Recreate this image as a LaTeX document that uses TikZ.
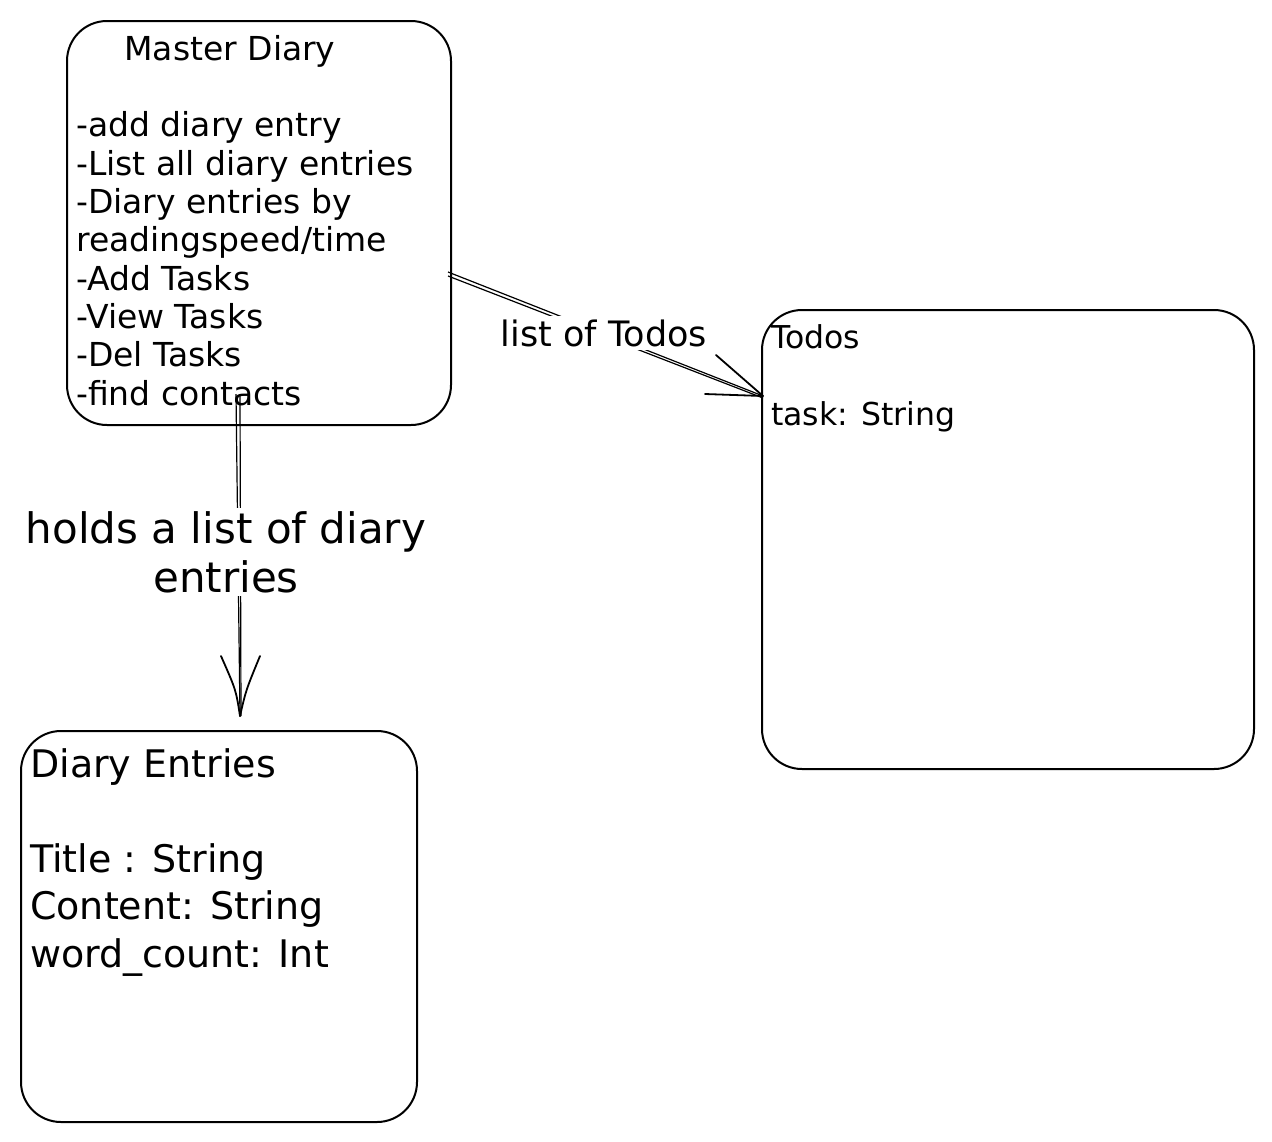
\documentclass[tikz,border=0pt]{standalone}
\usepackage{fontspec}
\setmainfont{DejaVu Sans}
\usetikzlibrary{calc}
\begin{document}
\begin{tikzpicture}[x=1pt,y=-1pt,
  box/.style={draw=black, line width=2pt, rounded corners=40pt, anchor=north west, inner sep=0pt},
  txt/.style={anchor=base west, align=left, inner sep=0pt},
  lbl/.style={fill=white, inner sep=3pt, align=center},
  conn/.style={draw=black, line width=1.2pt},
  barb/.style={draw=black, line width=1.8pt, line cap=round}]
\useasboundingbox[fill=white] (0,0) rectangle (1272,1141);

% boxes
\node[box, minimum width=384pt, minimum height=404pt] (md) at (66,20) {};
\node[box, minimum width=492pt, minimum height=459pt] (td) at (761,309) {};
\node[box, minimum width=396pt, minimum height=391pt] (de) at (20,730) {};

% Master Diary texts
\node[anchor=base, inner sep=0pt, font=\fontsize{33}{38}\selectfont] (mdt) at (230,60) {Master Diary};
\node[txt, font=\fontsize{33}{38.3}\selectfont] (mdl) at (76,405) {-add diary entry\\-List all diary entries\\-Diary entries by\\readingspeed/time\\-Add Tasks\\-View Tasks\\-Del Tasks\\-find contacts};

% Todos texts
\node[txt, font=\fontsize{31.5}{38}\selectfont] (tdt) at (771,348) {Todos};
\node[txt, font=\fontsize{31.5}{38}\selectfont] (tdl) at (771,425) {task: String};

% Diary Entries texts
\node[txt, font=\fontsize{38}{47.5}\selectfont] (det) at (30,777) {Diary Entries};
\node[txt, font=\fontsize{38}{47.5}\selectfont] (del) at (30,967) {Title : String\\Content: String\\word\_count: Int};

% connector Master Diary -> Todos
\coordinate (s1) at (448,272);
\coordinate (e1) at (763,396);
\draw[conn] (s1) -- (e1);
\draw[conn] ($(s1)+(0,4)$) -- ($(e1)+(0,2)$);
\draw[barb] (e1) -- (716,355);
\draw[barb] (e1) -- (705,394);
\node[lbl, font=\fontsize{35}{40}\selectfont] (l1) at (604,333) {list of Todos};

% connector Master Diary -> Diary Entries
\coordinate (s2) at (236,394);
\coordinate (e2) at (240,716);
\draw[conn] (s2) -- (e2);
\draw[conn] ($(s2)+(4,0)$) -- ($(e2)+(1,0)$);
\draw[barb] (e2) .. controls (236,690) .. (221,656);
\draw[barb] (e2) .. controls (246,690) .. (260,656);
\node[lbl, font=\fontsize{42}{49}\selectfont] (l2) at (226,552) {holds a list of diary\\entries};
\end{tikzpicture}
\end{document}
